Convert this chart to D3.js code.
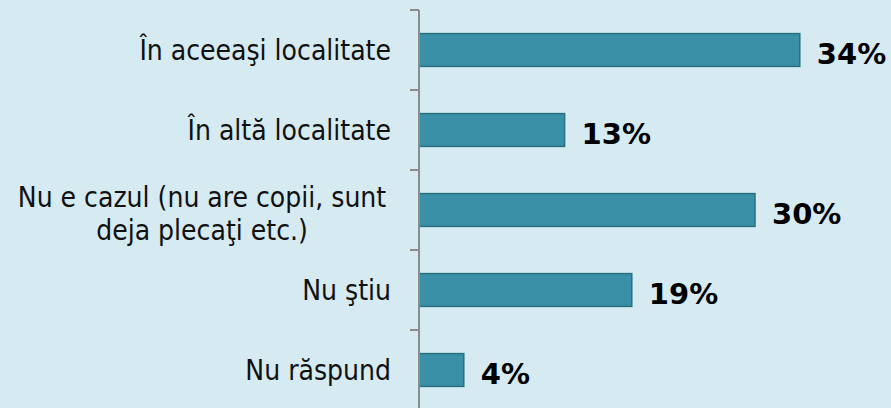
<!DOCTYPE html>
<html>
<head>
<meta charset="utf-8">
<script src="https://cdn.jsdelivr.net/npm/d3@7"></script>
<style>
  html, body { margin: 0; padding: 0; background: #d5eaf1; }
  svg { display: block; }
</style>
</head>
<body>
<svg id="chart" width="891" height="408"></svg>
<script>
// Categories (multi-line labels split by "\n") and their percentages
const categories = [
  "În aceeaşi localitate",
  "În altă localitate",
  "Nu e cazul (nu are copii, sunt\ndeja plecaţi etc.)",
  "Nu ştiu",
  "Nu răspund"
];
const values = [34, 13, 30, 19, 4];
const valueLabels = values.map(v => v + "%");

const W = 891, H = 408;
const svg = d3.select("#chart");
svg.append("rect").attr("width", W).attr("height", H).attr("fill", "#d5eaf1");

const axisX = 419;
const y = d3.scaleBand()
  .domain(categories)
  .range([10, 410])
  .paddingInner(0.59)
  .paddingOuter(0.295);

const x = d3.scaleLinear().domain([0, 40]).range([axisX, axisX + 448]);

// Bars
svg.append("g").selectAll("rect")
  .data(categories)
  .join("rect")
  .attr("x", x(0))
  .attr("y", d => y(d))
  .attr("width", (d, i) => x(values[i]) - x(0))
  .attr("height", y.bandwidth())
  .attr("fill", "#3a90a6")
  .attr("stroke", "#2a6f80")
  .attr("stroke-width", 1.5);

// Category axis: vertical line with ticks at band boundaries
const axisG = svg.append("g");
const boundaries = d3.range(categories.length + 1).map(i => 10 + i * y.step());
axisG.append("line")
  .attr("x1", axisX).attr("x2", axisX)
  .attr("y1", 10).attr("y2", H)
  .attr("stroke", "#8c8c8c").attr("stroke-width", 2);
axisG.selectAll("line.tick")
  .data(boundaries)
  .join("line")
  .attr("class", "tick")
  .attr("x1", axisX - 9).attr("x2", axisX)
  .attr("y1", d => d).attr("y2", d => d)
  .attr("stroke", "#8c8c8c").attr("stroke-width", 2);

// Category labels
const labelG = svg.append("g")
  .attr("font-family", "'DejaVu Sans Condensed', Tahoma, 'DejaVu Sans', sans-serif")
  .attr("font-stretch", "condensed")
  .attr("font-size", 28)
  .attr("fill", "#111");
categories.forEach(c => {
  const lines = c.split("\n");
  const cy = y(c) + y.bandwidth() / 2;
  const multi = lines.length > 1;
  const t = labelG.append("text")
    .attr("text-anchor", multi ? "middle" : "end");
  lines.forEach((ln, j) => {
    t.append("tspan")
      .attr("x", multi ? 202 : 391)
      .attr("y", multi ? cy - 3 + j * 33 : cy + 10)
      .text(ln);
  });
});

// Value labels
svg.append("g").selectAll("text")
  .data(categories)
  .join("text")
  .attr("x", (d, i) => x(values[i]) + 17)
  .attr("y", d => y(d) + y.bandwidth() / 2 + 13.5)
  .attr("font-family", "Tahoma, 'DejaVu Sans', Verdana, sans-serif")
  .attr("font-size", 29)
  .attr("font-weight", "bold")
  .attr("fill", "#000")
  .text((d, i) => valueLabels[i]);
</script>
</body>
</html>
